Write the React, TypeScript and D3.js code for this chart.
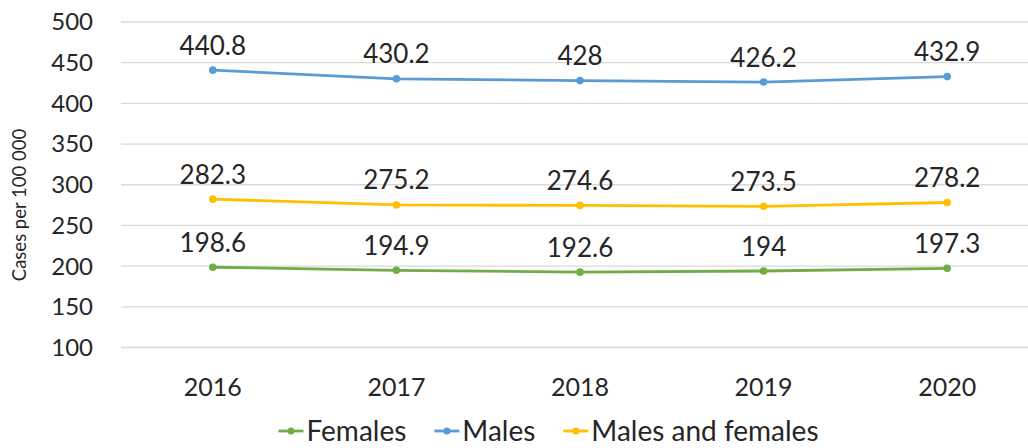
import React, { useRef, useEffect } from 'react';
import * as d3 from 'd3';

const years = ['2016', '2017', '2018', '2019', '2020'];
const females = [198.6, 194.9, 192.6, 194, 197.3];
const males = [440.8, 430.2, 428, 426.2, 432.9];
const both = [282.3, 275.2, 274.6, 273.5, 278.2];
const yTicks = [100, 150, 200, 250, 300, 350, 400, 450, 500];

const seriesNames = ['Females', 'Males', 'Males and females'];
const seriesColors = ['#70AD47', '#5B9BD5', '#FFC000'];
const seriesValues = [females, males, both];

const width = 1028;
const height = 448;
const font = 'Lato, "Open Sans", sans-serif';
const textColor = '#262626';

const App: React.FC = () => {
  const svgRef = useRef<SVGSVGElement>(null);

  useEffect(() => {
    if (!svgRef.current) return;
    const svg = d3.select(svgRef.current);
    svg.selectAll('*').remove();

    const x = d3.scaleBand<string>().domain(years).range([121, 1039]);
    const y = d3.scaleLinear().domain([100, 500]).range([347.5, 22]);

    // grid lines
    svg.append('g')
      .selectAll('line')
      .data(yTicks)
      .enter()
      .append('line')
      .attr('x1', 121)
      .attr('x2', 1028)
      .attr('y1', d => y(d))
      .attr('y2', d => y(d))
      .attr('stroke', '#D9D9D9')
      .attr('stroke-width', 1.3);

    // y tick labels
    svg.append('g')
      .selectAll('text')
      .data(yTicks)
      .enter()
      .append('text')
      .attr('x', 93)
      .attr('y', d => y(d))
      .attr('dy', '0.35em')
      .attr('text-anchor', 'end')
      .style('font-family', font)
      .style('font-size', '24px')
      .style('fill', textColor)
      .text(d => String(d));

    // y axis title
    svg.append('text')
      .attr('transform', `translate(26,205) rotate(-90)`)
      .attr('text-anchor', 'middle')
      .style('font-family', font)
      .style('font-size', '18.5px')
      .style('fill', textColor)
      .text('Cases per 100 000');

    // x labels
    svg.append('g')
      .selectAll('text')
      .data(years)
      .enter()
      .append('text')
      .attr('x', d => (x(d) as number) + x.bandwidth() / 2)
      .attr('y', 396)
      .attr('text-anchor', 'middle')
      .style('font-family', font)
      .style('font-size', '25px')
      .style('fill', textColor)
      .text(d => d);

    const cx = (i: number) => (x(years[i]) as number) + x.bandwidth() / 2;
    const line = d3.line<number>()
      .x((_d, i) => cx(i))
      .y(d => y(d));

    seriesValues.forEach((vals, si) => {
      const g = svg.append('g');
      g.append('path')
        .datum(vals)
        .attr('fill', 'none')
        .attr('stroke', seriesColors[si])
        .attr('stroke-width', 2.8)
        .attr('stroke-linejoin', 'round')
        .attr('d', line);
      g.selectAll('circle')
        .data(vals)
        .enter()
        .append('circle')
        .attr('cx', (_d, i) => cx(i))
        .attr('cy', d => y(d))
        .attr('r', 3.8)
        .attr('fill', seriesColors[si]);
      g.selectAll('text')
        .data(vals)
        .enter()
        .append('text')
        .attr('x', (_d, i) => cx(i))
        .attr('y', d => y(d) - 15.5)
        .attr('text-anchor', 'middle')
        .style('font-family', font)
        .style('font-size', '26px')
        .style('fill', textColor)
        .text(d => String(d));
    });

    // legend
    const legend = svg.append('g');
    const items = seriesNames.map((name, i) => {
      const gi = legend.append('g');
      gi.append('line')
        .attr('x1', 0)
        .attr('x2', 25)
        .attr('y1', 0)
        .attr('y2', 0)
        .attr('stroke', seriesColors[i])
        .attr('stroke-width', 2.8);
      gi.append('circle')
        .attr('cx', 12.5)
        .attr('cy', 0)
        .attr('r', 3.5)
        .attr('fill', seriesColors[i]);
      const t = gi.append('text')
        .attr('x', 28)
        .attr('y', 0)
        .attr('dy', '0.35em')
        .style('font-family', font)
        .style('font-size', '28px')
        .style('fill', textColor)
        .text(name);
      const w = 28 + (t.node() as SVGTextElement).getComputedTextLength();
      return { gi, w };
    });
    const gap = 28;
    const total = d3.sum(items, d => d.w) + gap * (items.length - 1);
    let pos = 548.5 - total / 2;
    items.forEach(({ gi, w }) => {
      gi.attr('transform', `translate(${pos},431)`);
      pos += w + gap;
    });
  }, []);

  return (
    <svg
      ref={svgRef}
      width={width}
      height={height}
      style={{ position: 'absolute', left: 0, top: 0, background: '#fff' }}
    />
  );
};

export default App;
